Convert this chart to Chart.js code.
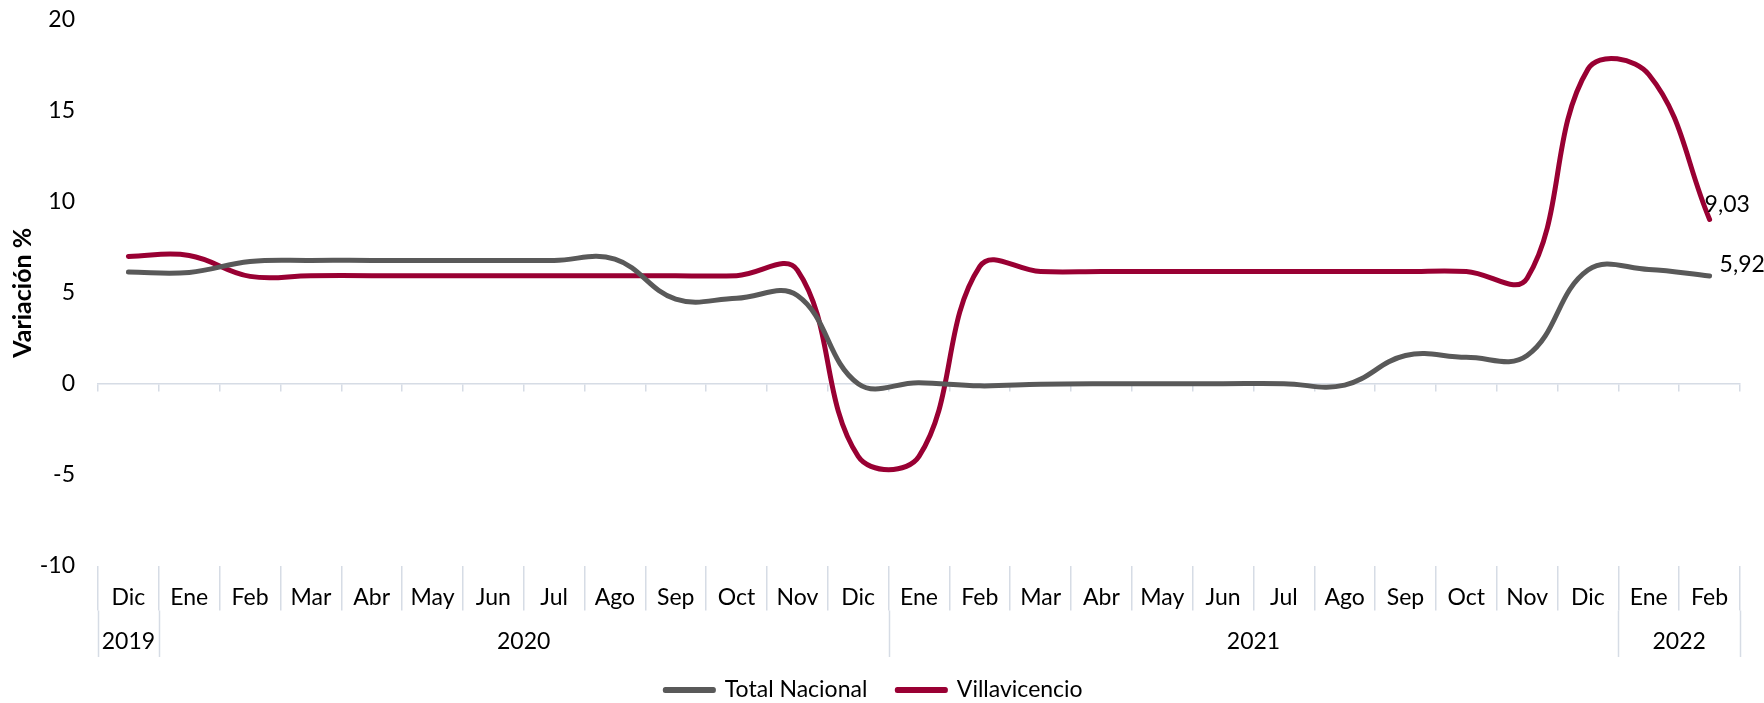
<!DOCTYPE html>
<html>
<head>
<meta charset="utf-8">
<script src="https://cdn.jsdelivr.net/npm/chart.js@4/dist/chart.umd.min.js"></script>
<style>
  body { margin: 0; background: #fff; overflow: hidden; }
</style>
</head>
<body>
<canvas id="grafico" width="1764" height="703"></canvas>
<script>
// meses (eje x) y grupos de años
const meses = ['Dic','Ene','Feb','Mar','Abr','May','Jun','Jul','Ago','Sep','Oct','Nov',
               'Dic','Ene','Feb','Mar','Abr','May','Jun','Jul','Ago','Sep','Oct','Nov',
               'Dic','Ene','Feb'];
const anios = ['2019','2020','2021','2022'];
const anioDesde = [0, 1, 13, 25];
const anioHasta = [0, 12, 24, 26];

// variación % anual
const totalNacional = [6.14, 6.12, 6.72, 6.78, 6.78, 6.78, 6.78, 6.78, 6.85, 4.65, 4.70, 4.85,
                       0.00, 0.05, -0.12, -0.03, 0.00, 0.00, 0.00, 0.00, -0.08, 1.55, 1.45, 1.55,
                       6.25, 6.28, 5.92];
const villavicencio = [7.00, 7.05, 5.90, 5.94, 5.94, 5.94, 5.94, 5.94, 5.94, 5.94, 5.94, 6.25,
                       -4.00, -4.00, 6.45, 6.17, 6.17, 6.17, 6.17, 6.17, 6.17, 6.17, 6.17, 5.80,
                       17.30, 17.00, 9.03];

const yTicks = [-10, -5, 0, 5, 10, 15, 20];

const GRIS = '#595959';
const ROJO = '#990033';
const LINEA_EJE = '#d6dce5';
const FUENTE = 'Lato, "Open Sans", sans-serif';
const TAM = 23;

// fila de años debajo de los meses
const filaAnios = {
  id: 'filaAnios',
  afterDraw(chart) {
    const x = chart.scales.x;
    const ctx = chart.ctx;
    const y0 = x.top + 45;
    const y1 = 657;
    ctx.save();
    ctx.strokeStyle = LINEA_EJE;
    ctx.lineWidth = 1.5;
    const bordes = [];
    anioDesde.forEach((d, i) => {
      bordes.push(d - 0.5);
      if (i == anioDesde.length - 1) bordes.push(anioHasta[i] + 0.5);
    });
    bordes.forEach(b => {
      const px = Math.round(x.getPixelForValue(b)) + 0.5;
      ctx.beginPath();
      ctx.moveTo(px, y0);
      ctx.lineTo(px, y1);
      ctx.stroke();
    });
    ctx.fillStyle = '#000';
    ctx.font = TAM + 'px ' + FUENTE;
    ctx.textAlign = 'center';
    ctx.textBaseline = 'middle';
    anios.forEach((a, i) => {
      const cx = (x.getPixelForValue(anioDesde[i]) + x.getPixelForValue(anioHasta[i])) / 2;
      ctx.fillText(a, cx, 642);
    });
    ctx.restore();
  }
};

// etiqueta del último valor de cada serie
const desplaz = [[10, -11], [-5, -15]];
const etiquetaFinal = {
  id: 'etiquetaFinal',
  afterDatasetsDraw(chart) {
    const ctx = chart.ctx;
    ctx.save();
    ctx.fillStyle = '#000';
    ctx.font = TAM + 'px ' + FUENTE;
    ctx.textAlign = 'left';
    ctx.textBaseline = 'middle';
    chart.data.datasets.forEach((ds, i) => {
      const meta = chart.getDatasetMeta(i);
      const p = meta.data[meta.data.length - 1];
      const v = ds.data[ds.data.length - 1];
      ctx.fillText(v.toFixed(2).replace('.', ','), p.x + desplaz[i][0], p.y + desplaz[i][1]);
    });
    ctx.restore();
  }
};

const ctx = document.getElementById('grafico').getContext('2d');
new Chart(ctx, {
  type: 'line',
  data: {
    labels: meses,
    datasets: [
      {
        label: 'Total Nacional',
        data: totalNacional,
        borderColor: GRIS,
        backgroundColor: GRIS,
        borderWidth: 5,
        borderCapStyle: 'round',
        borderJoinStyle: 'round',
        pointRadius: 0,
        tension: 0.4
      },
      {
        label: 'Villavicencio',
        data: villavicencio,
        borderColor: ROJO,
        backgroundColor: ROJO,
        borderWidth: 5,
        borderCapStyle: 'round',
        borderJoinStyle: 'round',
        pointRadius: 0,
        tension: 0.4
      }
    ]
  },
  options: {
    responsive: false,
    animation: false,
    devicePixelRatio: 1,
    layout: { padding: { top: 20, right: 24, left: 8, bottom: -8.5 } },
    plugins: {
      legend: {
        position: 'bottom',
        labels: {
          boxWidth: 48,
          boxHeight: 1,
          padding: 30,
          color: '#000',
          font: { family: FUENTE, size: TAM }
        }
      },
      tooltip: { enabled: false }
    },
    scales: {
      x: {
        type: 'category',
        position: 'bottom',
        offset: true,
        grid: {
          display: true,
          offset: true,
          drawOnChartArea: false,
          drawTicks: true,
          tickLength: 45,
          color: LINEA_EJE,
          lineWidth: 1.5
        },
        border: { display: false },
        ticks: {
          padding: -27,
          maxRotation: 0,
          autoSkip: false,
          color: '#000',
          font: { family: FUENTE, size: TAM }
        },
        afterFit(s) { s.height = 83; s.paddingLeft = 0; s.paddingRight = 0; }
      },
      x2: {
        type: 'category',
        position: { y: 0 },
        offset: true,
        grid: {
          display: true,
          offset: true,
          drawOnChartArea: false,
          drawTicks: true,
          tickLength: 7,
          color: LINEA_EJE,
          lineWidth: 1.5
        },
        border: { display: true, color: LINEA_EJE, width: 1.5 },
        ticks: { display: false }
      },
      y: {
        min: yTicks[0],
        max: yTicks[yTicks.length - 1],
        afterBuildTicks(s) { s.ticks = yTicks.map(v => ({ value: v })); },
        grid: { display: false, drawTicks: false },
        border: { display: false },
        ticks: {
          padding: 23,
          color: '#000',
          font: { family: FUENTE, size: TAM }
        },
        title: {
          display: true,
          text: 'Variación %',
          color: '#000',
          padding: { top: 0, bottom: 0 },
          font: { family: FUENTE, size: 25, weight: 'bold' }
        },
        afterFit(s) { s.width = 90; s.paddingTop = 0; s.paddingBottom = 0; }
      }
    }
  },
  plugins: [filaAnios, etiquetaFinal]
});
</script>
</body>
</html>
